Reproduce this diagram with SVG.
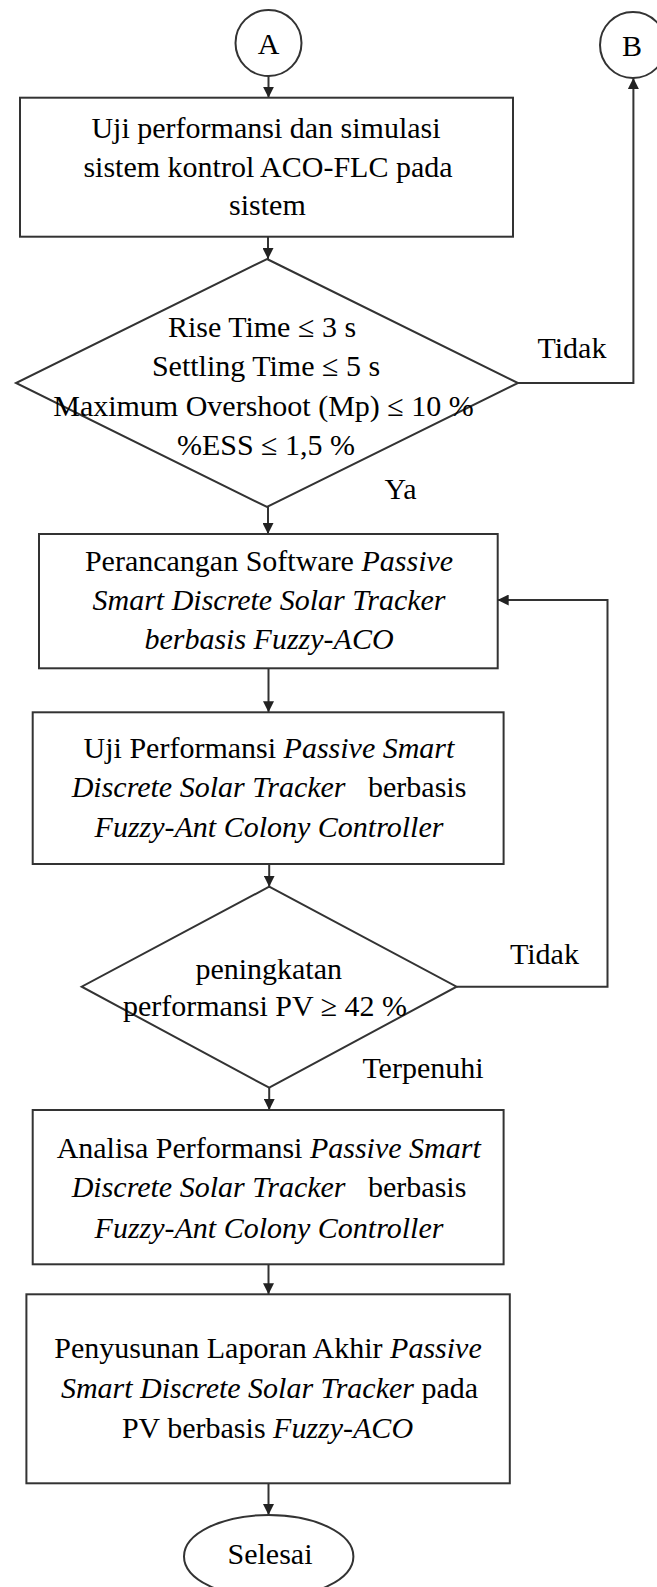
<svg xmlns="http://www.w3.org/2000/svg" width="657" height="1587" viewBox="0 0 657 1587">
  <style>
    .shape { fill: #fff; stroke: #333; stroke-width: 2; }
    .wire { fill: none; stroke: #333; stroke-width: 2; }
    text { font-family: "Liberation Serif", "Times New Roman", serif; font-size: 30px; fill: #000; }
    .mid { text-anchor: middle; }
    .it { font-style: italic; }
  </style>
  <defs>
    <marker id="arrow" markerUnits="userSpaceOnUse" markerWidth="11" markerHeight="11" refX="11" refY="5.5" orient="auto">
      <path d="M0,0 L11,5.5 L0,11 z" fill="#222"/>
    </marker>
  </defs>
  <rect width="657" height="1587" fill="#fff"/>

  <!-- connectors -->
  <g id="connectors">
    <line class="wire" x1="268.5" y1="76" x2="268.5" y2="97.7" marker-end="url(#arrow)"/>
    <line class="wire" x1="268" y1="236.7" x2="268" y2="259" marker-end="url(#arrow)"/>
    <polyline class="wire" points="518,383 633.4,383 633.4,78" marker-end="url(#arrow)"/>
    <line class="wire" x1="268" y1="507" x2="268" y2="534" marker-end="url(#arrow)"/>
    <line class="wire" x1="268.5" y1="668.3" x2="268.5" y2="712.3" marker-end="url(#arrow)"/>
    <line class="wire" x1="269.2" y1="864" x2="269.2" y2="886.7" marker-end="url(#arrow)"/>
    <polyline class="wire" points="456.6,986.7 607.5,986.7 607.5,600 497.7,600" marker-end="url(#arrow)"/>
    <line class="wire" x1="269.2" y1="1087.7" x2="269.2" y2="1110" marker-end="url(#arrow)"/>
    <line class="wire" x1="268.5" y1="1264.3" x2="268.5" y2="1294.3" marker-end="url(#arrow)"/>
    <line class="wire" x1="268.5" y1="1483.3" x2="268.5" y2="1515" marker-end="url(#arrow)"/>
    <text x="537.5" y="357.5">Tidak</text>
    <text x="384.6" y="499.3">Ya</text>
    <text x="510" y="964">Tidak</text>
    <text x="362.4" y="1078.3">Terpenuhi</text>
  </g>

  <!-- connector A -->
  <g id="node-a">
    <circle class="shape" cx="268.5" cy="43" r="33"/>
    <text class="mid" x="268.5" y="53.5">A</text>
  </g>

  <!-- connector B -->
  <g id="node-b">
    <circle class="shape" cx="633" cy="45" r="33"/>
    <text class="mid" x="632" y="55.5">B</text>
  </g>

  <!-- ACO-FLC simulation -->
  <g id="node-sim">
    <rect class="shape" x="20" y="97.7" width="493" height="139"/>
    <text class="mid" x="266" y="138.4">Uji performansi dan simulasi</text>
    <text class="mid" x="268" y="176.7">sistem kontrol ACO-FLC pada</text>
    <text class="mid" x="267.4" y="215">sistem</text>
  </g>

  <!-- response criteria decision -->
  <g id="node-criteria">
    <polygon class="shape" points="267,259 518,383 267,507 16,383"/>
    <text class="mid" x="262" y="337.3">Rise Time ≤ 3 s</text>
    <text class="mid" x="266" y="376">Settling Time ≤ 5 s</text>
    <text class="mid" x="263.5" y="415.7">Maximum Overshoot (Mp) ≤ 10 %</text>
    <text class="mid" x="266" y="455">%ESS ≤ 1,5 %</text>
  </g>

  <!-- software design -->
  <g id="node-software">
    <rect class="shape" x="39" y="534" width="458.7" height="134.3"/>
    <text class="mid" x="269" y="570.7">Perancangan Software <tspan class="it">Passive</tspan></text>
    <text class="mid it" x="269" y="610">Smart Discrete Solar Tracker</text>
    <text class="mid it" x="269" y="649.3">berbasis Fuzzy-ACO</text>
  </g>

  <!-- performance test -->
  <g id="node-test">
    <rect class="shape" x="32.7" y="712.3" width="470.9" height="151.7"/>
    <text class="mid" x="269" y="758.3">Uji Performansi <tspan class="it">Passive Smart</tspan></text>
    <text class="mid" x="269" y="797.3" xml:space="preserve"><tspan class="it">Discrete Solar Tracker</tspan>   berbasis</text>
    <text class="mid it" x="269" y="836.7">Fuzzy-Ant Colony Controller</text>
  </g>

  <!-- PV improvement decision -->
  <g id="node-improvement">
    <polygon class="shape" points="269.2,886.7 456.6,986.7 269.2,1087.7 81.7,986.7"/>
    <text class="mid" x="268.7" y="978.5">peningkatan</text>
    <text class="mid" x="265" y="1016">performansi PV ≥ 42 %</text>
  </g>

  <!-- performance analysis -->
  <g id="node-analysis">
    <rect class="shape" x="32.7" y="1110" width="470.9" height="154.3"/>
    <text class="mid" x="268.7" y="1157.7">Analisa Performansi <tspan class="it">Passive Smart</tspan></text>
    <text class="mid" x="269" y="1196.7" xml:space="preserve"><tspan class="it">Discrete Solar Tracker</tspan>   berbasis</text>
    <text class="mid it" x="269" y="1237.5">Fuzzy-Ant Colony Controller</text>
  </g>

  <!-- final report -->
  <g id="node-report">
    <rect class="shape" x="26.4" y="1294.3" width="483.4" height="189"/>
    <text class="mid" x="268" y="1358.3">Penyusunan Laporan Akhir <tspan class="it">Passive</tspan></text>
    <text class="mid" x="269.5" y="1398.3"><tspan class="it">Smart Discrete Solar Tracker</tspan> pada</text>
    <text class="mid" x="267.5" y="1438.3">PV berbasis <tspan class="it">Fuzzy-ACO</tspan></text>
  </g>

  <!-- end terminal -->
  <g id="node-end">
    <ellipse class="shape" cx="268.7" cy="1556.4" rx="84.7" ry="41.4"/>
    <text class="mid" x="270" y="1564">Selesai</text>
  </g>
</svg>
